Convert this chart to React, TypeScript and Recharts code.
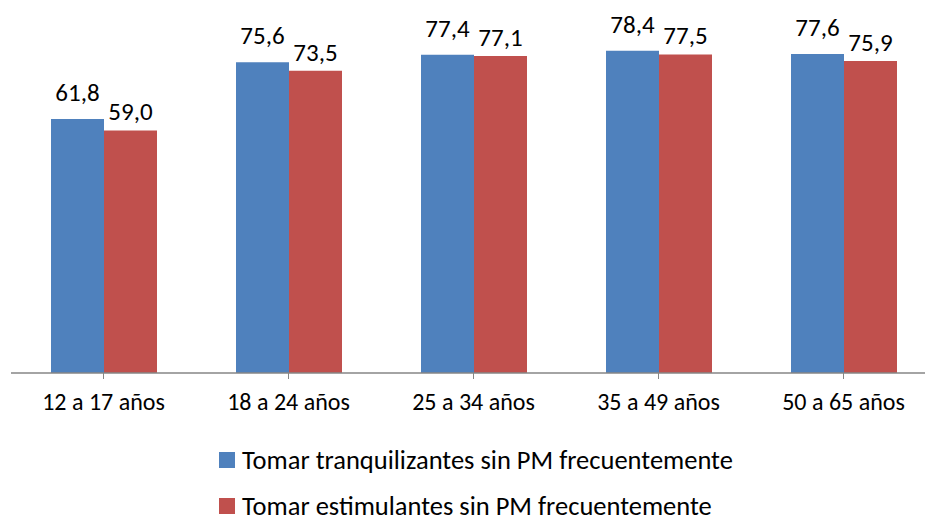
import React from "react";
import { BarChart, Bar, XAxis, YAxis, LabelList, Legend } from "recharts";

const categories = ["12 a 17 años", "18 a 24 años", "25 a 34 años", "35 a 49 años", "50 a 65 años"];
const tranquilizantes = [61.8, 75.6, 77.4, 78.4, 77.6];
const estimulantes = [59.0, 73.5, 77.1, 77.5, 75.9];
const seriesNames = [
  "Tomar tranquilizantes sin PM frecuentemente",
  "Tomar estimulantes sin PM frecuentemente",
];
const seriesColors = ["#4F81BD", "#C0504D"];

const data = categories.map((c, i) => ({
  cat: c,
  a: tranquilizantes[i],
  b: estimulantes[i],
}));

const FONT = "Carlito, Calibri, 'Open Sans', sans-serif";

const fmt = (v: any) => Number(v).toFixed(1).replace(".", ",");

const LegendContent = () => (
  <div style={{ fontFamily: FONT, fontSize: 26.5, color: "#000" }}>
    {seriesNames.map((n, i) => (
      <div
        key={n}
        style={{ display: "flex", alignItems: "center", height: 46, paddingLeft: 219 }}
      >
        <span
          style={{
            display: "inline-block",
            width: 16,
            height: 16,
            background: seriesColors[i],
            marginRight: 7,
            flexShrink: 0,
          }}
        />
        <span style={{ lineHeight: "20px", whiteSpace: "nowrap" }}>{n}</span>
      </div>
    ))}
  </div>
);

export default function App() {
  return (
    <div
      style={{
        position: "fixed",
        top: 0,
        left: 0,
        width: 925,
        height: 517,
        overflow: "hidden",
        background: "#fff",
      }}
    >
      <BarChart
        width={940}
        height={517}
        data={data}
        margin={{ top: 3, right: 4, left: 11, bottom: 0 }}
        barCategoryGap={40}
        barGap={0}
      >
        <XAxis
          dataKey="cat"
          height={144}
          stroke="#868686"
          tickLine={{ stroke: "#868686" }}
          tickSize={6}
          interval={0}
          tick={{ fill: "#000", fontSize: 24, fontFamily: FONT, dy: 12 }}
          axisLine={{ stroke: "#868686", strokeWidth: 1.3 }}
        />
        <YAxis hide domain={[0, 90]} />
        <Legend
          layout="vertical"
          align="center"
          verticalAlign="middle"
          wrapperStyle={{ position: "absolute", top: 437, left: 0, width: 925 }}
          content={<LegendContent />}
        />
        <Bar dataKey="a" fill={seriesColors[0]} isAnimationActive={false}>
          <LabelList
            dataKey="a"
            position="top"
            offset={18}
            formatter={fmt}
            style={{ fill: "#000", fontSize: 25, fontFamily: FONT }}
          />
        </Bar>
        <Bar dataKey="b" fill={seriesColors[1]} isAnimationActive={false}>
          <LabelList
            dataKey="b"
            position="top"
            offset={10}
            formatter={fmt}
            style={{ fill: "#000", fontSize: 25, fontFamily: FONT }}
          />
        </Bar>
      </BarChart>
    </div>
  );
}
